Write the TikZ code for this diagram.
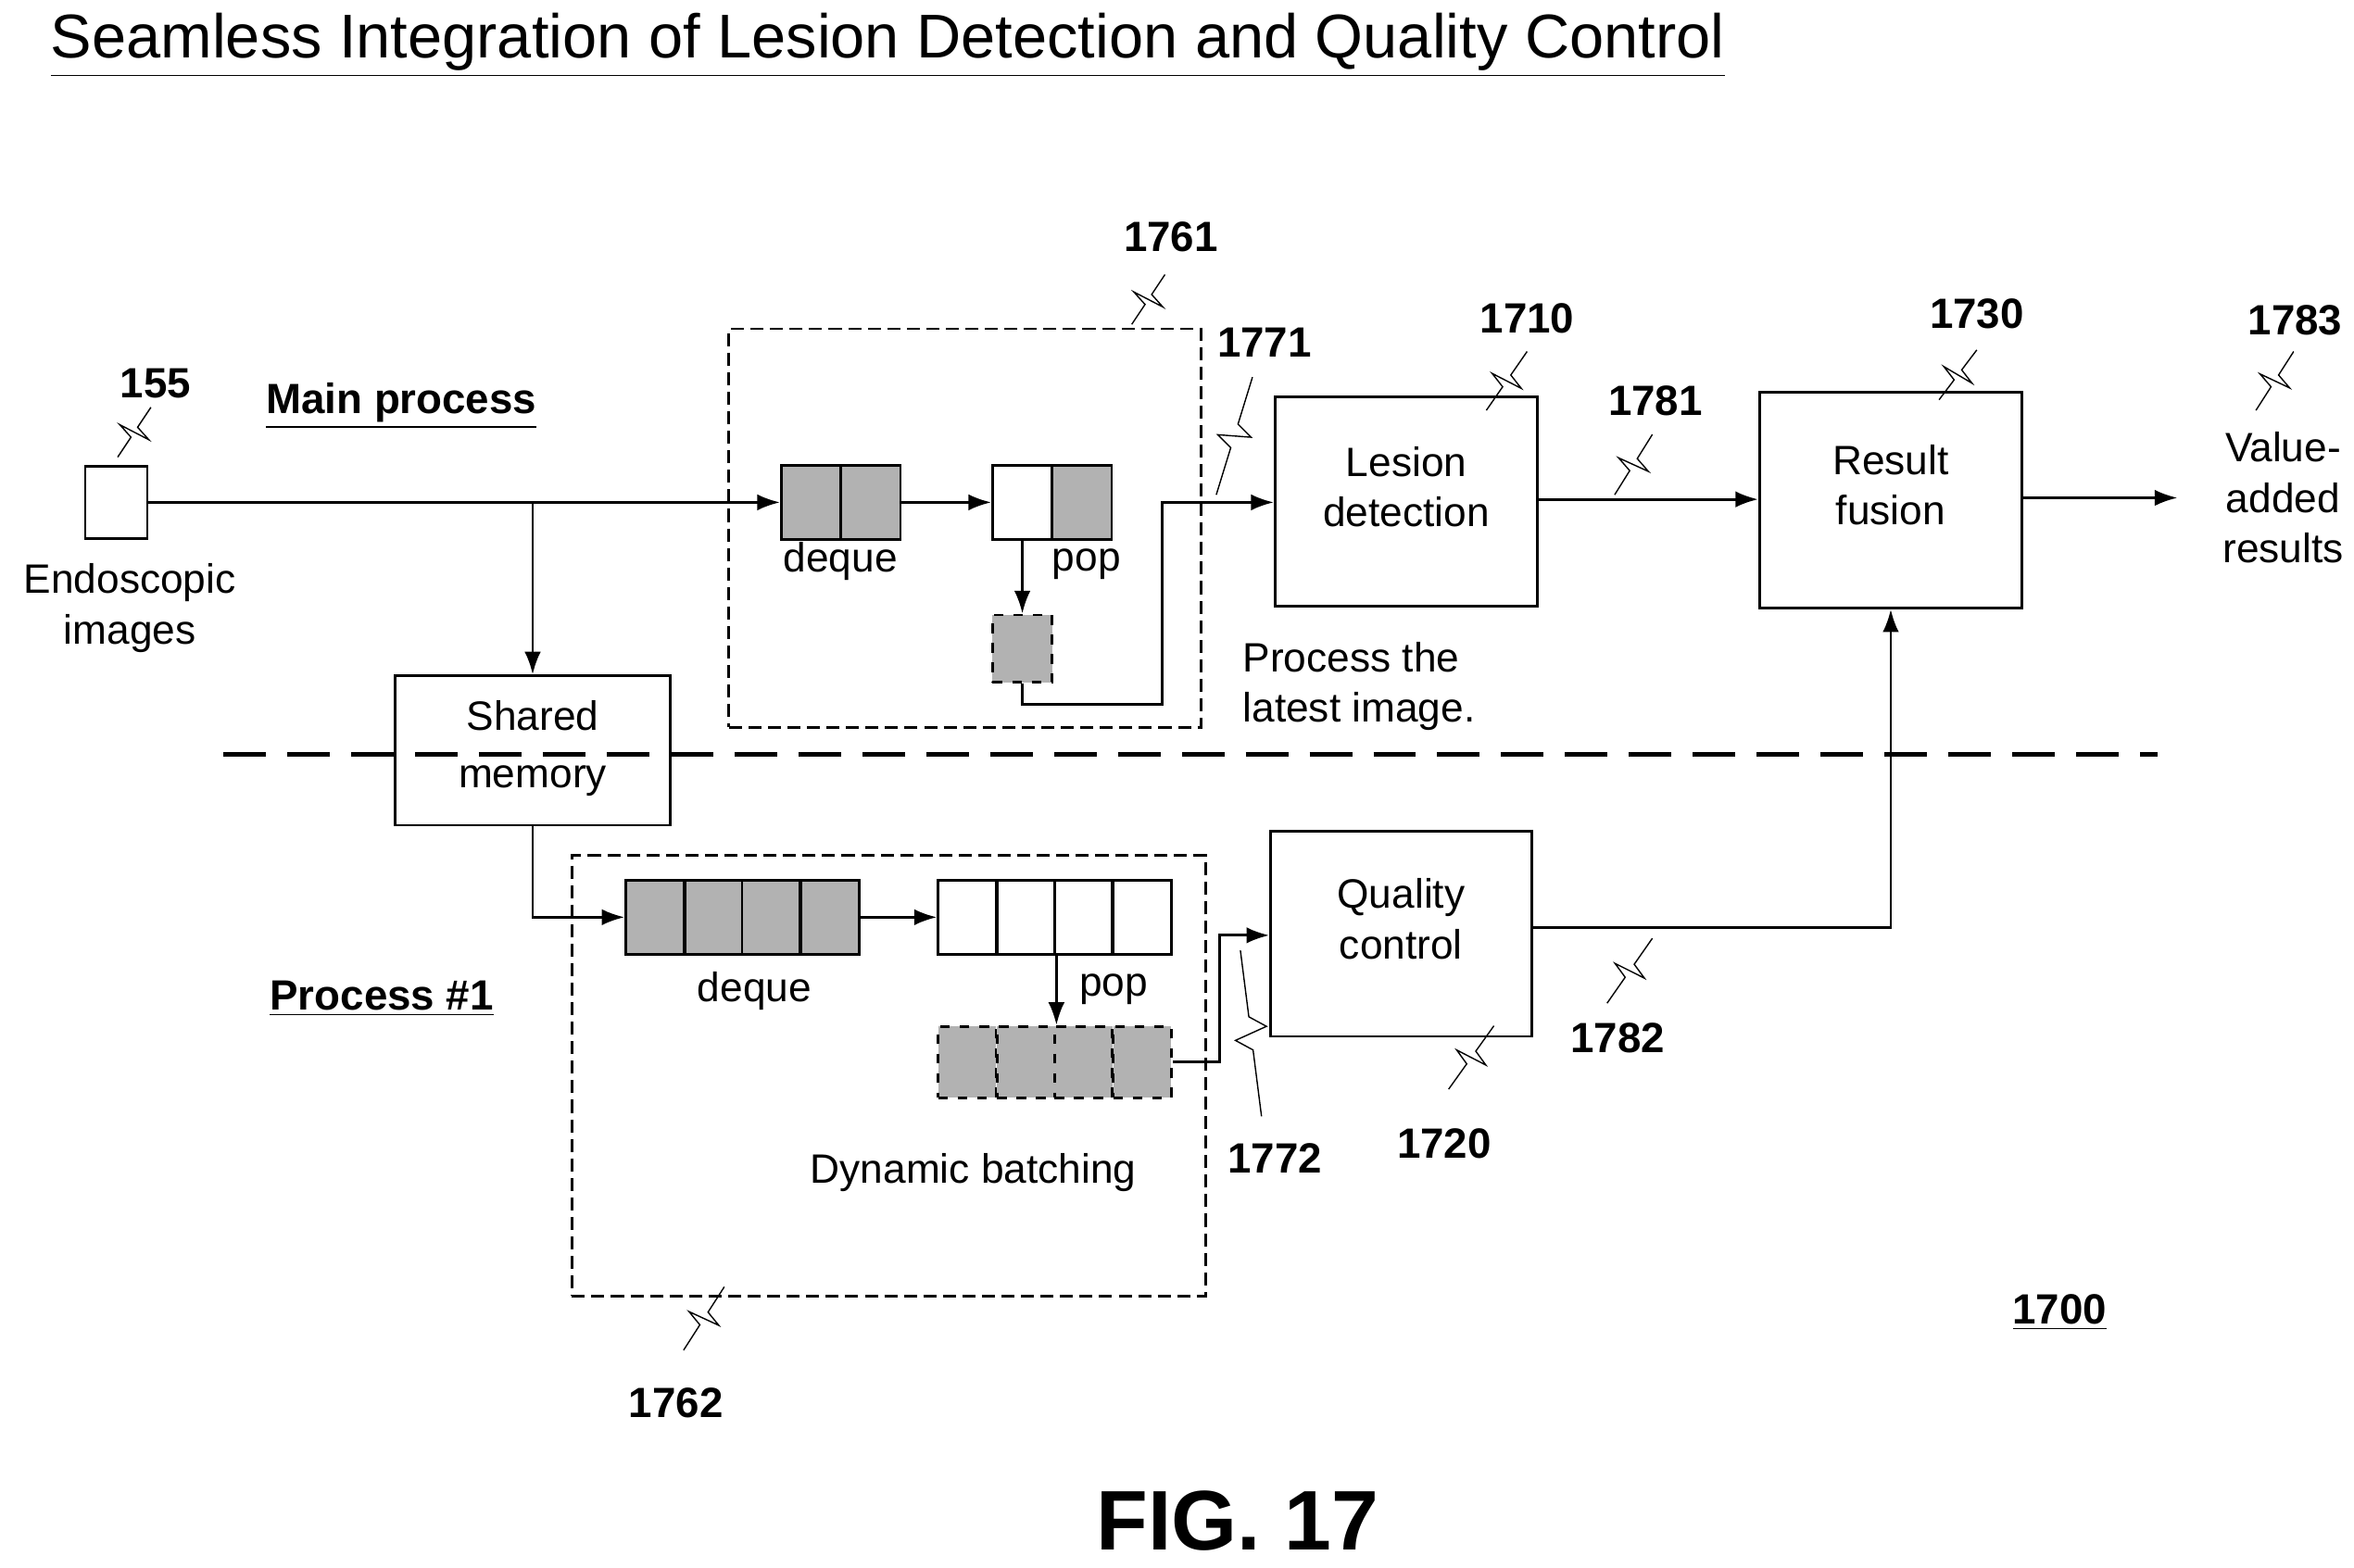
\documentclass[tikz,border=0pt]{standalone}
\usepackage{fontspec}
\setmainfont{Liberation Sans}
\usetikzlibrary{calc,fit,arrows.meta}

\newcommand\squig[2]{%
  \draw[thin] (#1) -- ($(#1)!.4!(#2)$) -- ($(#1)!.47!(#2)!5pt!90:(#2)$)
    -- ($(#1)!.53!(#2)!5pt!-90:(#2)$) -- ($(#1)!.6!(#2)$) -- (#2);}

\begin{document}
\begin{tikzpicture}[x=0.01629cm,y=-0.01629cm,
            every node/.style={font=\fontsize{12.6}{15.5}\selectfont},
            box/.style={draw,thick,inner sep=0pt,align=center},
            cell/.style={draw,thick,minimum width=0.643cm,minimum height=0.8cm,inner sep=0pt},
            full/.style={cell,fill=black!30},
            ghost/.style={full,dashed},
            frame/.style={draw,thick,dash pattern=on 4pt off 2pt},
            num/.style={font=\fontsize{13}{15}\selectfont\bfseries},
            arr/.style={-{Latex[length=7pt,width=5pt]},thick},
            line/.style={thick}]
    \useasboundingbox (0,0) rectangle (1560,1039);

    % title and figure number
    \node[anchor=west,font=\fontsize{19}{22}\selectfont] (title) at (26,30) {\underline{Seamless Integration of Lesion Detection and Quality Control}};
    \node[font=\fontsize{26}{30}\selectfont\bfseries] (fig) at (820,1008) {FIG. 17};
    \node[num] (n1700) at (1365,870) {\underline{1700}};

    % process split
    \draw[line width=1.4pt,dash pattern=on 0.46cm off 0.23cm] (148,500) -- (1430,500);
    \node[num] (mainp) at (266,269) {\underline{Main process}};
    \node[num] (proc1) at (253,662) {\underline{Process \#1}};

    % input
    \node[box,minimum width=0.67cm,minimum height=0.78cm] (img) at (77,333) {};
    \node[align=center] (imgtxt) at (86,403) {Endoscopic\\images};
    \node[num] (n155) at (103,254) {155};
    \squig{78,303}{100,270}

    \node[box,fit={(262,448) (444,547)}] (shm) {};
    \node[align=center,font=\fontsize{12.6}{17.5}\selectfont] (shmtxt) at (353,496) {Shared\\memory};

    % main process queue
    \node[frame,fit={(483,218) (796,482)},inner sep=0] (q1) {};
    \node[num] (n1761) at (776,157) {1761};
    \squig{750,215}{772,182}
    \node[full] (dqa1) at (537.5,333) {};
    \node[full] (dqa2) at (577,333) {};
    \node (dqatxt) at (557,372) {deque};
    \node[cell] (ppa1) at (677.5,333) {};
    \node[full] (ppa2) at (717,333) {};
    \node (ppatxt) at (720,374) {pop};
    \node[ghost,minimum height=0.73cm] (lasta) at (677.5,430) {};

    % lesion branch
    \node[box,fit={(845,263) (1019,402)}] (lesion) {Lesion\\detection};
    \node[align=left,anchor=north west] (latest) at (816,418) {Process the\\latest image.};
    \node[num] (n1771) at (838,227) {1771};
    \squig{806,328}{830,250}
    \node[num] (n1710) at (1012,211) {1710};
    \squig{985,272}{1012,233}

    \node[box,fit={(1166,260) (1340,403)}] (fusion) {Result\\fusion};
    \node[num] (n1730) at (1310,208) {1730};
    \squig{1285,265}{1310,232}
    \node[num] (n1781) at (1097,266) {1781};
    \squig{1070,328}{1095,288}
    \coordinate (out) at (1443,330);
    \node[align=center] (valtxt) at (1513,330) {Value-\\added\\results};
    \node[num] (n1783) at (1521,212) {1783};
    \squig{1495,272}{1520,233}

    % process #1 queue
    \node[frame,fit={(379,567) (799,859)},inner sep=0] (q2) {};
    \node[num] (n1762) at (448,930) {1762};
    \squig{453,895}{480,853}
    \foreach \i/\x in {1/434,2/473,3/511,4/550}
        \node[full,minimum width=0.627cm] (dqb\i) at (\x,608) {};
    \node (dqbtxt) at (500,657) {deque};
    \foreach \i/\x in {1/641,2/680,3/718,4/757}{
        \node[cell,minimum width=0.627cm] (ppb\i) at (\x,608) {};
        \node[ghost,minimum width=0.627cm,minimum height=0.77cm] (bat\i) at (\x,704) {};
    }
    \node (ppbtxt) at (738,656) {pop};
    \node (dyn) at (645,777) {Dynamic batching};

    \node[box,fit={(842,551) (1015,687)}] (qc) {Quality\\control};
    \node[num] (n1772) at (845,768) {1772};
    \squig{836,740}{822,630}
    \node[num] (n1720) at (957,758) {1720};
    \squig{960,722}{990,680}
    \node[num] (n1782) at (1072,688) {1782};
    \squig{1065,665}{1095,622}

    % connectors
    \draw[arr] (img.east) -- (dqa1.west);
    \draw[arr] (img.east -| shm.north) -- (shm.north);
    \draw[arr] (dqa2.east) -- (ppa1.west);
    \draw[arr] (ppa1.south) -- (lasta.north);
    \draw[arr] (lasta.south) |- (770,467) -- (770,333) -- (lesion.west |- 0,333);
    \draw[arr] (lesion.east |- 0,331) -- (fusion.west |- 0,331);
    \draw[arr] (fusion.east |- 0,330) -- (out);
    \draw[arr] (shm.south) |- (dqb1.west);
    \draw[arr] (dqb4.east) -- (ppb1.west);
    \draw[arr] (ppb2.south east) -- (bat2.north east);
    \draw[arr] (bat4.east) -- (808,704) -- (808,620) -- (qc.west |- 0,620);
    \draw[arr] (qc.east |- 0,615) -| (fusion.south);
\end{tikzpicture}
\end{document}
